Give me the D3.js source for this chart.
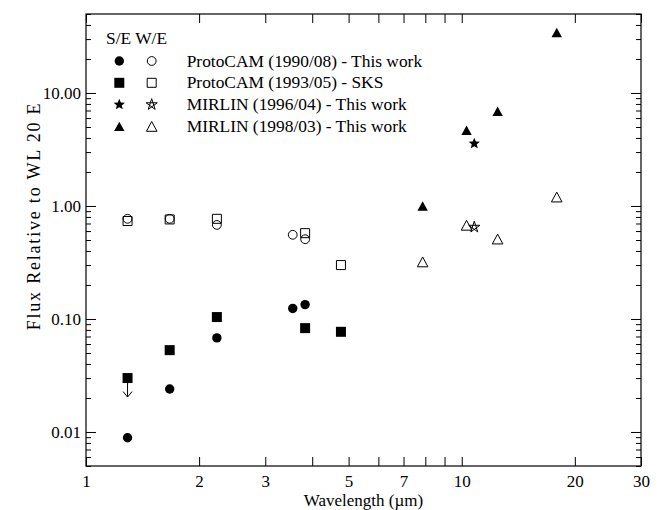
<!DOCTYPE html>
<html>
<head>
<meta charset="utf-8">
<script src="https://cdn.jsdelivr.net/npm/d3@7"></script>
<style>
  body { margin: 0; background: #fff; }
  svg { display: block; }
  text { font-family: "Liberation Serif", "Times New Roman", serif; fill: #000; }
</style>
</head>
<body>
<div id="chart"></div>
<script>
// wavelengths (um) and fluxes relative to WL 20 E, S/E and W/E components
var protocam90Wave = [1.29, 1.67, 2.23, 3.55, 3.83];
var protocam90SE   = [0.0089, 0.024, 0.068, 0.124, 0.134];
var protocam90WE   = [0.77, 0.77, 0.68, 0.556, 0.508];

var protocam93Wave  = [1.29, 1.67, 2.23, 3.83, 4.77];
var protocam93SE    = [0.030, 0.053, 0.104, 0.083, 0.077];
var protocam93WE    = [0.736, 0.76, 0.77, 0.575, 0.30];
var protocam93Limit = [true, false, false, false, false]; // upper limits on S/E

var mirlin96Wave = [10.8];
var mirlin96SE   = [3.57];
var mirlin96WE   = [0.65];

var mirlin98Wave = [7.87, 10.3, 12.46, 17.9];
var mirlin98SE   = [1.0, 4.68, 6.9, 34.3];
var mirlin98WE   = [0.32, 0.675, 0.51, 1.20];

var seriesNames = ["ProtoCAM (1990/08) - This work",
                   "ProtoCAM (1993/05) - SKS",
                   "MIRLIN (1996/04) - This work",
                   "MIRLIN (1998/03) - This work"];
var seriesShapes = ["circle", "square", "star", "triangle"];

var xTicks      = [1, 2, 3, 4, 5, 6, 7, 8, 9, 10, 20, 30];
var xTickLabels = [1, 2, 3, 5, 7, 10, 20, 30];
var yMajor = [0.01, 0.1, 1, 10];
var yMinor = [0.005, 0.006, 0.007, 0.008, 0.009,
              0.02, 0.03, 0.04, 0.05, 0.06, 0.07, 0.08, 0.09,
              0.2, 0.3, 0.4, 0.5, 0.6, 0.7, 0.8, 0.9,
              2, 3, 4, 5, 6, 7, 8, 9,
              20, 30, 40, 50];

var W = 665, H = 510;
var pLeft = 86, pRight = 641, pTop = 14, pBottom = 466;

var svg = d3.select("#chart").append("svg")
    .attr("width", W)
    .attr("height", H);

var x = d3.scaleLog().domain([1, 30]).range([pLeft, pRight]);
var y = d3.scaleLog().domain([0.005, 50]).range([pBottom, pTop]);

//marker outlines centred on 0,0
function shapePath(kind, filled) {
  if (kind === "circle") {
    var r = filled ? 4.7 : 4.4;
    return d3.symbol(d3.symbolCircle, Math.PI * r * r)();
  }
  if (kind === "square") {
    var s = filled ? 5 : 4.5;
    return "M" + (-s) + "," + (-s) + "H" + s + "V" + s + "H" + (-s) + "Z";
  }
  if (kind === "triangle") {
    var w = filled ? 5.2 : 5.3, h = filled ? 4.7 : 4.9;
    return "M0," + (-h) + "L" + w + "," + h + "L" + (-w) + "," + h + "Z";
  }
  // stars: filled one is a solid 5-point star, open one a crossed pentagram
  var R = 5.9, p = [], i, a;
  if (filled) {
    for (i = 0; i < 10; i++) {
      a = -Math.PI / 2 + i * Math.PI / 5;
      var rr = (i % 2 === 0) ? R : R * 0.45;
      p.push([rr * Math.cos(a), rr * Math.sin(a)]);
    }
  } else {
    for (i = 0; i < 5; i++) {
      a = -Math.PI / 2 + i * 4 * Math.PI / 5;
      p.push([R * Math.cos(a), R * Math.sin(a)]);
    }
  }
  return "M" + p.map(function (d) { return d[0].toFixed(2) + "," + d[1].toFixed(2); }).join("L") + "Z";
}

function drawPoints(wave, flux, kind, filled) {
  svg.append("g").selectAll("path")
    .data(wave.map(function (w, i) { return [w, flux[i]]; }))
    .enter()
    .append("path")
    .attr("d", shapePath(kind, filled))
    .attr("transform", function (d) { return "translate(" + x(d[0]) + "," + y(d[1]) + ")"; })
    .attr("fill", filled ? "#000" : "none")
    .attr("stroke", filled ? "none" : "#000")
    .attr("stroke-width", 1);
}

// axes: ticks point inwards and are mirrored on the opposite side
svg.append("g")
    .attr("transform", "translate(0," + pBottom + ")")
    .call(d3.axisBottom(x).tickValues(xTicks).tickSize(-9).tickPadding(9)
      .tickFormat(function (d) { return xTickLabels.indexOf(d) >= 0 ? d : ""; }));
svg.append("g")
    .attr("transform", "translate(0," + pTop + ")")
    .call(d3.axisTop(x).tickValues(xTicks).tickSize(-9).tickFormat(""));
svg.append("g")
    .attr("transform", "translate(" + pLeft + ",0)")
    .call(d3.axisLeft(y).tickValues(yMajor).tickSize(-10).tickPadding(5).tickFormat(d3.format(".2f")));
svg.append("g")
    .attr("transform", "translate(" + pLeft + ",0)")
    .call(d3.axisLeft(y).tickValues(yMinor).tickSize(-5).tickFormat(""));
svg.append("g")
    .attr("transform", "translate(" + pRight + ",0)")
    .call(d3.axisRight(y).tickValues(yMajor).tickSize(-10).tickFormat(""));
svg.append("g")
    .attr("transform", "translate(" + pRight + ",0)")
    .call(d3.axisRight(y).tickValues(yMinor).tickSize(-5).tickFormat(""));

svg.selectAll(".domain").remove();
svg.selectAll(".tick line").attr("stroke", "#000");
svg.selectAll(".tick text").style("font-size", "17px").attr("fill", "#000");

svg.append("rect")
    .attr("x", pLeft).attr("y", pTop)
    .attr("width", pRight - pLeft).attr("height", pBottom - pTop)
    .attr("fill", "none").attr("stroke", "#000").attr("stroke-width", 1.2);

svg.append("text")
    .attr("x", (pLeft + pRight) / 2).attr("y", 506)
    .attr("text-anchor", "middle")
    .style("font-size", "17px")
    .text("Wavelength (\u00b5m)");

svg.append("text")
    .attr("transform", "translate(40," + 216 + ")rotate(-90)")
    .attr("text-anchor", "middle")
    .style("font-size", "18px")
    .style("letter-spacing", "1.8px")
    .text("Flux Relative to WL 20 E");

// data
drawPoints(protocam90Wave, protocam90WE, "circle", false);
drawPoints(protocam93Wave, protocam93WE, "square", false);
drawPoints(protocam90Wave, protocam90SE, "circle", true);
drawPoints(protocam93Wave, protocam93SE, "square", true);
drawPoints(mirlin98Wave, mirlin98SE, "triangle", true);
drawPoints(mirlin98Wave, mirlin98WE, "triangle", false);
drawPoints(mirlin96Wave, mirlin96SE, "star", true);
drawPoints(mirlin96Wave, mirlin96WE, "star", false);

//upper limit arrows
var limits = protocam93Wave.map(function (w, i) { return [w, protocam93SE[i], protocam93Limit[i]]; })
    .filter(function (d) { return d[2]; });
var arrows = svg.append("g").selectAll("g")
    .data(limits)
    .enter()
    .append("g")
    .attr("transform", function (d) { return "translate(" + x(d[0]) + "," + y(d[1]) + ")"; })
    .attr("fill", "none").attr("stroke", "#000").attr("stroke-width", 1);
arrows.append("path").attr("d", "M0,5V19");
arrows.append("path").attr("d", "M-4.5,13.5L0,19L4.5,13.5");

// legend
var legend = svg.append("g");
legend.append("text")
    .attr("x", 106).attr("y", 44)
    .style("font-size", "17.4px")
    .text("S/E W/E");
var rows = legend.selectAll(".row")
    .data(seriesNames)
    .enter()
    .append("g")
    .attr("class", "row")
    .attr("transform", function (d, i) { return "translate(0," + (61 + i * 21.8) + ")"; });
rows.append("path")
    .attr("d", function (d, i) { return shapePath(seriesShapes[i], true); })
    .attr("transform", "translate(119.3,0)")
    .attr("fill", "#000");
rows.append("path")
    .attr("d", function (d, i) { return shapePath(seriesShapes[i], false); })
    .attr("transform", "translate(151.7,0)")
    .attr("fill", "none").attr("stroke", "#000");
rows.append("text")
    .attr("x", 186.7).attr("y", 5.5)
    .style("font-size", "17.4px")
    .text(function (d) { return d; });
</script>
</body>
</html>
